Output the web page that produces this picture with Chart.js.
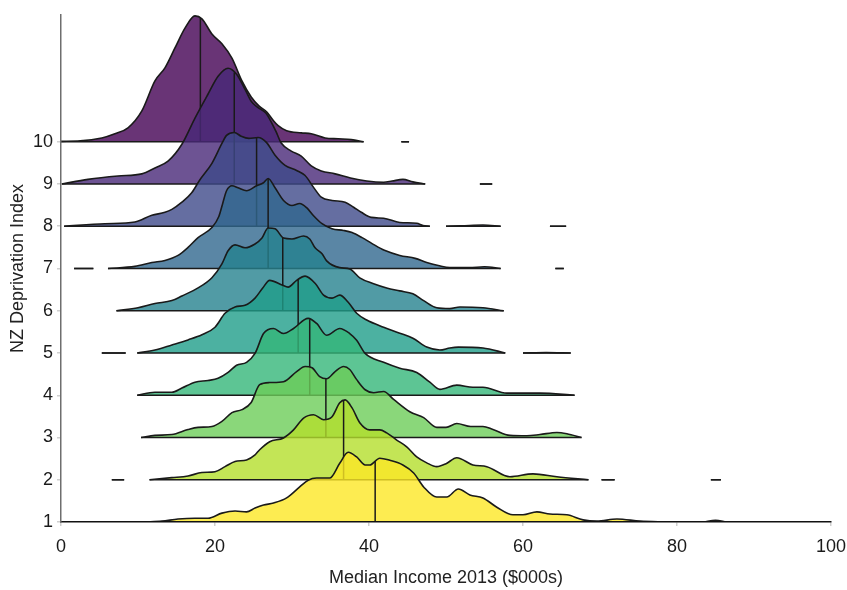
<!DOCTYPE html>
<html><head><meta charset="utf-8">
<script src="https://cdn.jsdelivr.net/npm/chart.js@4.4.1/dist/chart.umd.min.js"></script>
<style>html,body{margin:0;padding:0;background:#fff}canvas{display:block}</style>
</head><body>
<canvas id="c" width="847" height="590"></canvas>
<script>
// ---- data (income in $000s, density height in row units above each baseline; null = gap) ----
const levels = [1, 2, 3, 4, 5, 6, 7, 8, 9, 10];
const xTicks = [0, 20, 40, 60, 80, 100];
const yTicks = [1, 2, 3, 4, 5, 6, 7, 8, 9, 10];
const medians = [40.8, 36.7, 34.4, 32.3, 30.8, 28.8, 26.9, 25.4, 22.5, 18.1];

const income1 = [10.9,13.1,15.2,17.4,19.1,20.9,22.6,24.1,25.2,26.3,27.6,29.3,31,32.1,33.2,34.9,36.2,37.3,38.4,39.5,40.1,41.4,42.7,44.4,45.8,47.1,48.8,50.1,51.6,53.1,54.8,56.6,58.7,60,61.8,63.5,65.7,67.8,69.6,72.2,75.2,78.7,null,83.5,85,86.4];
const density1 = [0,0.02,0.07,0.09,0.09,0.21,0.26,0.24,0.33,0.40,0.45,0.57,0.83,0.99,1.04,1.04,1.39,1.65,1.54,1.35,1.35,1.51,1.46,1.35,1.16,0.83,0.59,0.59,0.78,0.64,0.57,0.35,0.17,0.17,0.24,0.19,0.17,0.05,0.02,0.07,0.02,0,null,0,0.04,0];

const income2 = [6.6,8.2,null,11.5,14.4,16.5,18.3,20,21.3,22.6,24.1,25.2,25.8,27.1,28.9,30.2,31.5,32.8,34.1,35.2,36.2,36.9,37.8,38.8,40.1,41.4,42.3,43.6,44.9,46.2,47.5,48.8,50,51.4,53.5,55.3,58.3,61.3,64.4,68.5,null,70.2,71.9,null,84.4,85.7];
const density2 = [0,0,null,0,0.05,0.09,0.17,0.19,0.31,0.43,0.47,0.59,0.71,0.90,0.99,1.18,1.46,1.54,1.42,1.49,1.82,1.89,1.70,1.35,1.18,1.18,1.11,0.94,0.78,0.54,0.40,0.31,0.38,0.52,0.35,0.31,0.07,0.14,0.07,0,null,0,0,null,0,0];

const income3 = [10.4,12.2,14.4,16.5,17.8,19.6,20.9,22.2,23.5,24.7,25.8,27.1,28.9,30.6,31.7,32.6,33.6,34.5,35.6,36.7,37.5,38.4,39.5,40.6,41.9,43.2,45.3,47.1,48.8,50,51.4,53.2,54.8,56.1,58.3,60.5,62.2,64.4,65.7,67.6];
const density3 = [0,0.05,0.07,0.19,0.24,0.26,0.38,0.59,0.66,0.83,1.25,1.30,1.32,1.56,1.68,1.65,1.44,1.39,1.56,1.68,1.61,1.37,1.13,1.06,1.09,0.90,0.61,0.47,0.24,0.24,0.33,0.26,0.26,0.19,0.05,0.04,0.07,0.12,0.09,0];

const income4 = [9.9,12.2,14.4,15.7,17.4,19.1,20.4,21.7,22.8,24.1,25.2,26.3,27.6,28.9,30.2,32.1,33.2,34.5,36.2,37.5,38.4,39.5,41.9,44,46.2,47.9,49.2,51.4,53.5,54.8,57.9,60,62.2,66.7];
const density4 = [0,0.07,0.07,0.17,0.31,0.35,0.40,0.54,0.71,0.78,0.99,1.46,1.58,1.46,1.58,1.82,1.70,1.42,1.58,1.46,1.30,0.99,0.78,0.64,0.54,0.31,0.14,0.24,0.19,0.19,0.05,0.05,0.05,0];

const income5 = [5.3,8.4,null,9.9,12.2,14.4,16.5,18.3,20,21.3,22.6,23.9,25.2,26.2,27.1,28.7,29.5,30.6,31.7,33,34.1,35.2,36.2,37.3,38.4,39.7,41.9,44,45.7,47.5,49.2,50.5,51.6,54.8,57.7,null,60,63,66.2];
const density5 = [0,0,null,0,0.07,0.19,0.31,0.43,0.61,0.94,1.09,1.13,1.30,1.54,1.72,1.61,1.56,1.72,1.82,1.65,1.37,1.30,1.37,1.20,0.94,0.78,0.61,0.47,0.35,0.14,0.07,0.12,0.14,0.12,0,null,0,0.01,0];

const income6 = [7.2,10,12.2,14.4,15.7,17.8,19.6,20.9,21.7,22.6,23.9,25.2,26.1,26.9,27.8,28.9,30,31.5,32.3,33,33.9,34.5,36.2,37.5,38.8,40.6,42.3,44,45.7,47.1,48.8,50.5,51.8,54.8,57.5];
const density6 = [0,0.07,0.17,0.24,0.35,0.54,0.78,1.11,1.42,1.56,1.49,1.58,1.72,1.96,1.94,1.72,1.70,1.77,1.70,1.49,1.35,1.18,1.02,0.99,0.78,0.64,0.54,0.47,0.40,0.24,0.07,0.05,0.09,0.07,0];

const income7 = [1.7,4.2,null,6.1,9.6,11.8,13.5,15.2,16.5,17.8,19.6,20.5,21,21.5,22.2,23,24.1,25.4,26.3,26.9,27.8,28.9,30,31,31.9,32.8,33.9,35.2,36.7,37.8,39.1,40.4,42,44,46,47.5,49,50.5,53,55,57.1,null,64.2,65.3];
const density7 = [0,0,null,0,0.05,0.14,0.19,0.31,0.50,0.73,0.97,1.23,1.54,1.84,1.96,1.91,1.84,1.96,2.03,2.13,1.91,1.61,1.49,1.54,1.44,1.25,1.06,0.94,0.90,0.85,0.73,0.59,0.43,0.31,0.24,0.14,0.07,0.02,0.02,0.04,0,null,0,0];

const income8 = [0.4,5.7,9.6,11.8,13.5,14.4,15.7,17,18,19.6,20.9,21.5,22.5,23.4,24.4,25.6,26.7,27.8,29.1,30.6,31.7,32.8,33.8,35.2,36.9,38,39,40.3,41.9,44,46.2,47,47.9,null,50,52,54.8,57.1,null,63.5,65.6];
const density8 = [0,0.06,0.10,0.26,0.33,0.40,0.57,0.80,1.09,1.49,1.96,2.15,2.22,2.13,2.08,2.10,1.98,1.68,1.44,1.32,1.20,0.92,0.69,0.61,0.57,0.45,0.33,0.21,0.19,0.09,0.07,0.02,0,null,0,0.01,0.03,0,null,0,0];

const income9 = [0.1,3.5,7.4,10.5,12.2,13.9,15.7,17.4,19.1,20.4,21.7,22.8,23.9,24.7,25.5,26.6,27.9,28.6,29.9,31.2,32.5,33.8,35.6,37.6,39.7,41.9,43,44.4,45.7,47.3,null,54.4,56];
const density9 = [0,0.11,0.19,0.24,0.38,0.54,0.94,1.56,2.13,2.55,2.74,2.60,2.24,1.96,1.82,1.68,1.25,0.97,0.78,0.66,0.43,0.31,0.24,0.14,0.07,0.04,0.07,0.11,0.05,0,null,0,0];

const income10 = [0,2.5,5.3,7,8.7,10.5,12.2,13.5,14.8,16.1,17.4,18.3,19.6,20.9,22.2,23.5,24.7,25.7,26.7,27.5,28.2,29.3,31.2,32.5,34.3,36,37.7,39.3,null,44.2,45.2];
const density10 = [0.01,0.02,0.09,0.19,0.33,0.73,1.44,1.75,2.22,2.69,2.98,2.91,2.55,2.32,1.98,1.44,1.06,0.85,0.71,0.52,0.38,0.26,0.21,0.19,0.09,0.07,0.05,0,null,0,0];

// ---- styles ----
const fillColors = ['rgba(253,231,37,0.8)','rgba(180,222,44,0.8)','rgba(109,205,89,0.8)','rgba(53,183,121,0.8)','rgba(31,158,137,0.8)','rgba(38,130,142,0.8)','rgba(49,104,142,0.8)','rgba(62,74,137,0.8)','rgba(72,40,120,0.8)','rgba(68,1,84,0.8)'];
const LINE = '#1a1a1a';
const FONT = '"Liberation Sans", Arial, Helvetica, sans-serif';

const incomes = [income1,income2,income3,income4,income5,income6,income7,income8,income9,income10];
const densities = [density1,density2,density3,density4,density5,density6,density7,density8,density9,density10];

function segmentsOf(xs, ds) {
  const segs = []; let cur = [];
  for (let i = 0; i < xs.length; i++) {
    if (xs[i] === null || ds[i] === null) { if (cur.length) segs.push(cur); cur = []; }
    else cur.push([xs[i], ds[i]]);
  }
  if (cur.length) segs.push(cur);
  return segs;
}
function heightAt(segs, m) {
  for (const s of segs) {
    for (let i = 0; i < s.length - 1; i++) {
      if (s[i][0] <= m && m <= s[i+1][0]) {
        const t = (m - s[i][0]) / (s[i+1][0] - s[i][0]);
        return s[i][1] + t * (s[i+1][1] - s[i][1]);
      }
    }
  }
  return 0;
}

const datasets = [];
levels.forEach((k, i) => {
  const segs = segmentsOf(incomes[i], densities[i]);
  const curve = [], base = [];
  segs.forEach((s, si) => {
    if (si > 0) {
      curve.push({x: s[0][0], y: null});
      base.push({x: s[0][0], y: null});
    }
    s.forEach(p => curve.push({x: p[0], y: k + p[1]}));
    base.push({x: s[0][0], y: k}, {x: s[s.length-1][0], y: k});
  });
  datasets.push({
    data: curve, order: 3*k, fill: {value: k},
    backgroundColor: fillColors[i], borderColor: LINE, borderWidth: 1.6,
    pointRadius: 0, cubicInterpolationMode: 'monotone', spanGaps: false
  });
  datasets.push({
    data: base, order: 3*k - 1, fill: false,
    borderColor: LINE, borderWidth: 1.4, pointRadius: 0, spanGaps: false
  });
  const hm = heightAt(segs, medians[i]);
  datasets.push({
    data: [{x: medians[i], y: k}, {x: medians[i], y: k + hm}], order: 3*k - 2, fill: false,
    borderColor: LINE, borderWidth: 1.5, pointRadius: 0
  });
});

new Chart(document.getElementById('c'), {
  type: 'line',
  data: { datasets },
  options: {
    responsive: false, animation: false, devicePixelRatio: 1,
    layout: { padding: { top: 15, right: 16, left: 0, bottom: 0 } },
    plugins: { legend: { display: false }, tooltip: { enabled: false } },
    scales: {
      x: {
        type: 'linear', min: 0, max: 100,
        afterBuildTicks: s => { s.ticks = xTicks.map(v => ({value: v})); },
        afterFit: s => { s.height = 68; s.paddingLeft = 0; s.paddingRight = 0; },
        grid: { drawOnChartArea: false, drawTicks: true, tickLength: 4, color: '#cfcfcf', lineWidth: 1.5 },
        border: { display: true, color: '#111', width: 1.5, z: 1 },
        ticks: { color: '#1a1a1a', font: { family: FONT, size: 18 }, padding: 10, maxRotation: 0 },
        title: { display: true, text: 'Median Income 2013 ($000s)', color: '#222', font: { family: FONT, size: 18 }, padding: { top: 0, bottom: 1 } }
      },
      y: {
        type: 'linear', min: 1, max: 13,
        afterBuildTicks: s => { s.ticks = yTicks.map(v => ({value: v})); },
        afterFit: s => { s.width = 61; s.paddingTop = 0; s.paddingBottom = 0; },
        grid: { drawOnChartArea: false, drawTicks: true, tickLength: 4, color: '#cfcfcf', lineWidth: 1.5 },
        border: { display: true, color: '#6e6e6e', width: 1.5, z: 1 },
        ticks: { color: '#1a1a1a', font: { family: FONT, size: 18 }, padding: 4 },
        title: { display: true, text: 'NZ Deprivation Index', color: '#222', font: { family: FONT, size: 18 }, padding: { top: 7, bottom: 0 } }
      }
    }
  }
});
</script>
</body></html>
